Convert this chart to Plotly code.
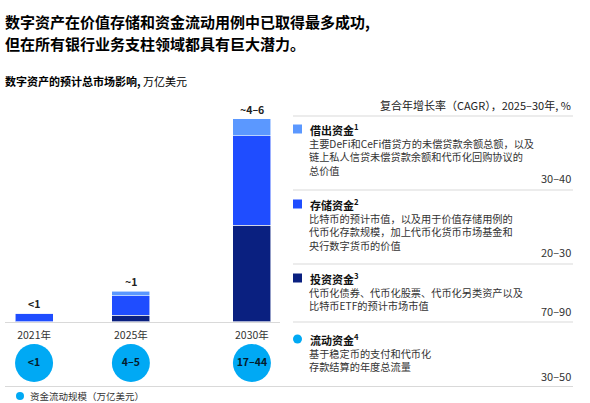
import plotly.graph_objects as go

W, H = 590, 403
FONT = "Noto Sans CJK SC"

# ---------------- data ----------------
years = [2021, 2025, 2030]
year_labels = ["2021年", "2025年", "2030年"]
invest = [0.0, 0.15, 2.37]     # 投资资金 (dark navy)
store = [0.20, 0.48, 2.21]     # 存储资金 (electric blue)
lend = [0.0, 0.12, 0.42]       # 借出资金 (light blue)
total_labels = ["<1", "~1", "~4–6"]
flow_labels = ["<1", "4–5", "17–44"]

title_lines = ["数字资产在价值存储和资金流动用例中已取得最多成功,",
               "但在所有银行业务支柱领域都具有巨大潜力。"]
subtitle = "<b>数字资产的预计总市场影响,</b> 万亿美元"
cagr_header = "复合年增长率（CAGR），2025–30年, %"
flow_legend = "资金流动规模（万亿美元）"

seg_names = ["借出资金<sup>1</sup>", "存储资金<sup>2</sup>", "投资资金<sup>3</sup>", "流动资金<sup>4</sup>"]
seg_desc = [
    ["主要DeFi和CeFi借贷方的未偿贷款余额总额，以及",
     "链上私人信贷未偿贷款余额和代币化回购协议的",
     "总价值"],
    ["比特币的预计市值，以及用于价值存储用例的",
     "代币化存款规模，加上代币化货币市场基金和",
     "央行数字货币的价值"],
    ["代币化债券、代币化股票、代币化另类资产以及",
     "比特币ETF的预计市场市值"],
    ["基于稳定币的支付和代币化",
     "存款结算的年度总流量"],
]
cagr_values = ["30–40", "20–30", "70–90", "30–50"]

# ---------------- style ----------------
C_LIGHT = "#5b98ff"
C_MID = "#1f4dff"
C_DARK = "#0a2080"
C_CYAN = "#00a9f4"
TXT = "#222222"

def px(x):
    return x / W

def py(y):
    return 1 - y / H

fig = go.Figure()

bar_w = 1.57
for vals, col, nm in [(invest, C_DARK, "投资资金"), (store, C_MID, "存储资金"), (lend, C_LIGHT, "借出资金")]:
    fig.add_trace(go.Bar(x=years, y=vals, name=nm, width=bar_w,
                         marker=dict(color=col, line=dict(color="rgba(255,255,255,0.7)", width=0.8)),
                         showlegend=False, hoverinfo="skip", xaxis="x", yaxis="y"))

# flow circles
fig.add_trace(go.Scatter(x=years, y=[0.5] * len(years), mode="markers+text",
                         marker=dict(size=38, color=C_CYAN),
                         text=[f"<b>{t}</b>" for t in flow_labels], textposition="middle center",
                         textfont=dict(family=FONT, size=10.5, color="#051c2c"),
                         showlegend=False, hoverinfo="skip", xaxis="x2", yaxis="y2"))

totals = [a + b + c for a, b, c in zip(invest, store, lend)]
annotations = []
for yr, tot, lab in zip(years, totals, total_labels):
    annotations.append(dict(x=yr, y=tot, xref="x", yref="y", text=f"<b>{lab}</b>",
                            showarrow=False, yanchor="bottom", yshift=0,
                            font=dict(family=FONT, size=10.5, color=TXT)))

# titles
for i, line in enumerate(title_lines):
    annotations.append(dict(x=px(3), y=py(22 + i * 21.5), xref="paper", yref="paper", text=f"<b>{line}</b>",
                            showarrow=False, xanchor="left", yanchor="middle",
                            font=dict(family=FONT, size=15, color="#000000")))
annotations.append(dict(x=px(3), y=py(81), xref="paper", yref="paper", text=subtitle,
                        showarrow=False, xanchor="left", yanchor="middle",
                        font=dict(family=FONT, size=11, color="#000000")))

# right panel
annotations.append(dict(x=px(573), y=py(105), xref="paper", yref="paper", text=cagr_header,
                        showarrow=False, xanchor="right", yanchor="middle",
                        font=dict(family=FONT, size=11, color=TXT)))

head_y = [129, 204, 278, 339]
val_y = [178, 252, 311, 376]
sep_y = [116, 190, 264, 322]
shapes = []
for sy in sep_y:
    shapes.append(dict(type="line", xref="paper", yref="paper", x0=px(293), x1=px(573), y0=py(sy), y1=py(sy),
                       line=dict(color="#d9d9d9", width=1)))
# bottom line across
shapes.append(dict(type="line", xref="paper", yref="paper", x0=px(5), x1=px(573), y0=py(386.5), y1=py(386.5),
                   line=dict(color="#d9d9d9", width=1)))

sq_cols = [C_LIGHT, C_MID, C_DARK]
DESC_FS = 10.2
for i in range(4):
    hy = head_y[i]
    if i < 3:
        shapes.append(dict(type="rect", xref="paper", yref="paper", x0=px(293), x1=px(302),
                           y0=py(hy - 4.5), y1=py(hy + 4.5), fillcolor=sq_cols[i], line=dict(width=0)))
    else:
        shapes.append(dict(type="circle", xref="paper", yref="paper", x0=px(293), x1=px(302),
                           y0=py(hy - 4.5), y1=py(hy + 4.5), fillcolor=C_CYAN, line=dict(width=0)))
    annotations.append(dict(x=px(308), y=py(hy), xref="paper", yref="paper", text=f"<b>{seg_names[i]}</b>",
                            showarrow=False, xanchor="left", yanchor="middle",
                            font=dict(family=FONT, size=11, color="#111111")))
    n = len(seg_desc[i])
    # multi-line block, centred on the middle line
    mid = hy + 14.5 + (n - 1) * 13.3 / 2
    annotations.append(dict(x=px(308), y=py(mid), xref="paper", yref="paper",
                            text="<br>".join(seg_desc[i]), align="left",
                            showarrow=False, xanchor="left", yanchor="middle", borderpad=0,
                            font=dict(family=FONT, size=DESC_FS, color="#333333")))
    annotations.append(dict(x=px(573), y=py(val_y[i]), xref="paper", yref="paper", text=cagr_values[i],
                            showarrow=False, xanchor="right", yanchor="middle",
                            font=dict(family=FONT, size=11, color="#333333")))

# bottom legend
shapes.append(dict(type="circle", xref="paper", yref="paper", x0=px(16), x1=px(24),
                   y0=py(392), y1=py(400), fillcolor=C_CYAN, line=dict(width=0)))
annotations.append(dict(x=px(28), y=py(396), xref="paper", yref="paper", text=flow_legend,
                        showarrow=False, xanchor="left", yanchor="middle",
                        font=dict(family=FONT, size=9.5, color="#333333")))

x_range = [2019.80, 2031.16]
x_dom = [px(5), px(280)]
fig.update_layout(
    width=W, height=H, margin=dict(l=0, r=0, t=0, b=0),
    paper_bgcolor="white", plot_bgcolor="white",
    barmode="stack", font=dict(family=FONT),
    xaxis=dict(domain=x_dom, range=x_range, tickvals=years, ticktext=year_labels,
               showgrid=False, zeroline=False, showline=True, linecolor="#d9d9d9", linewidth=1,
               ticks="", ticklabelstandoff=4, tickfont=dict(family=FONT, size=10.5, color="#333333"),
               anchor="y", fixedrange=True),
    yaxis=dict(domain=[py(321.5), py(100)], range=[0, 221.5 / 40.6], visible=False, fixedrange=True),
    xaxis2=dict(domain=x_dom, range=x_range, visible=False, anchor="y2", fixedrange=True),
    yaxis2=dict(domain=[py(382), py(344)], range=[0, 1], visible=False, fixedrange=True),
    annotations=annotations, shapes=shapes,
)

fig.write_html("out.html", config={"displayModeBar": False},
               post_script="document.body.style.margin='0';")
